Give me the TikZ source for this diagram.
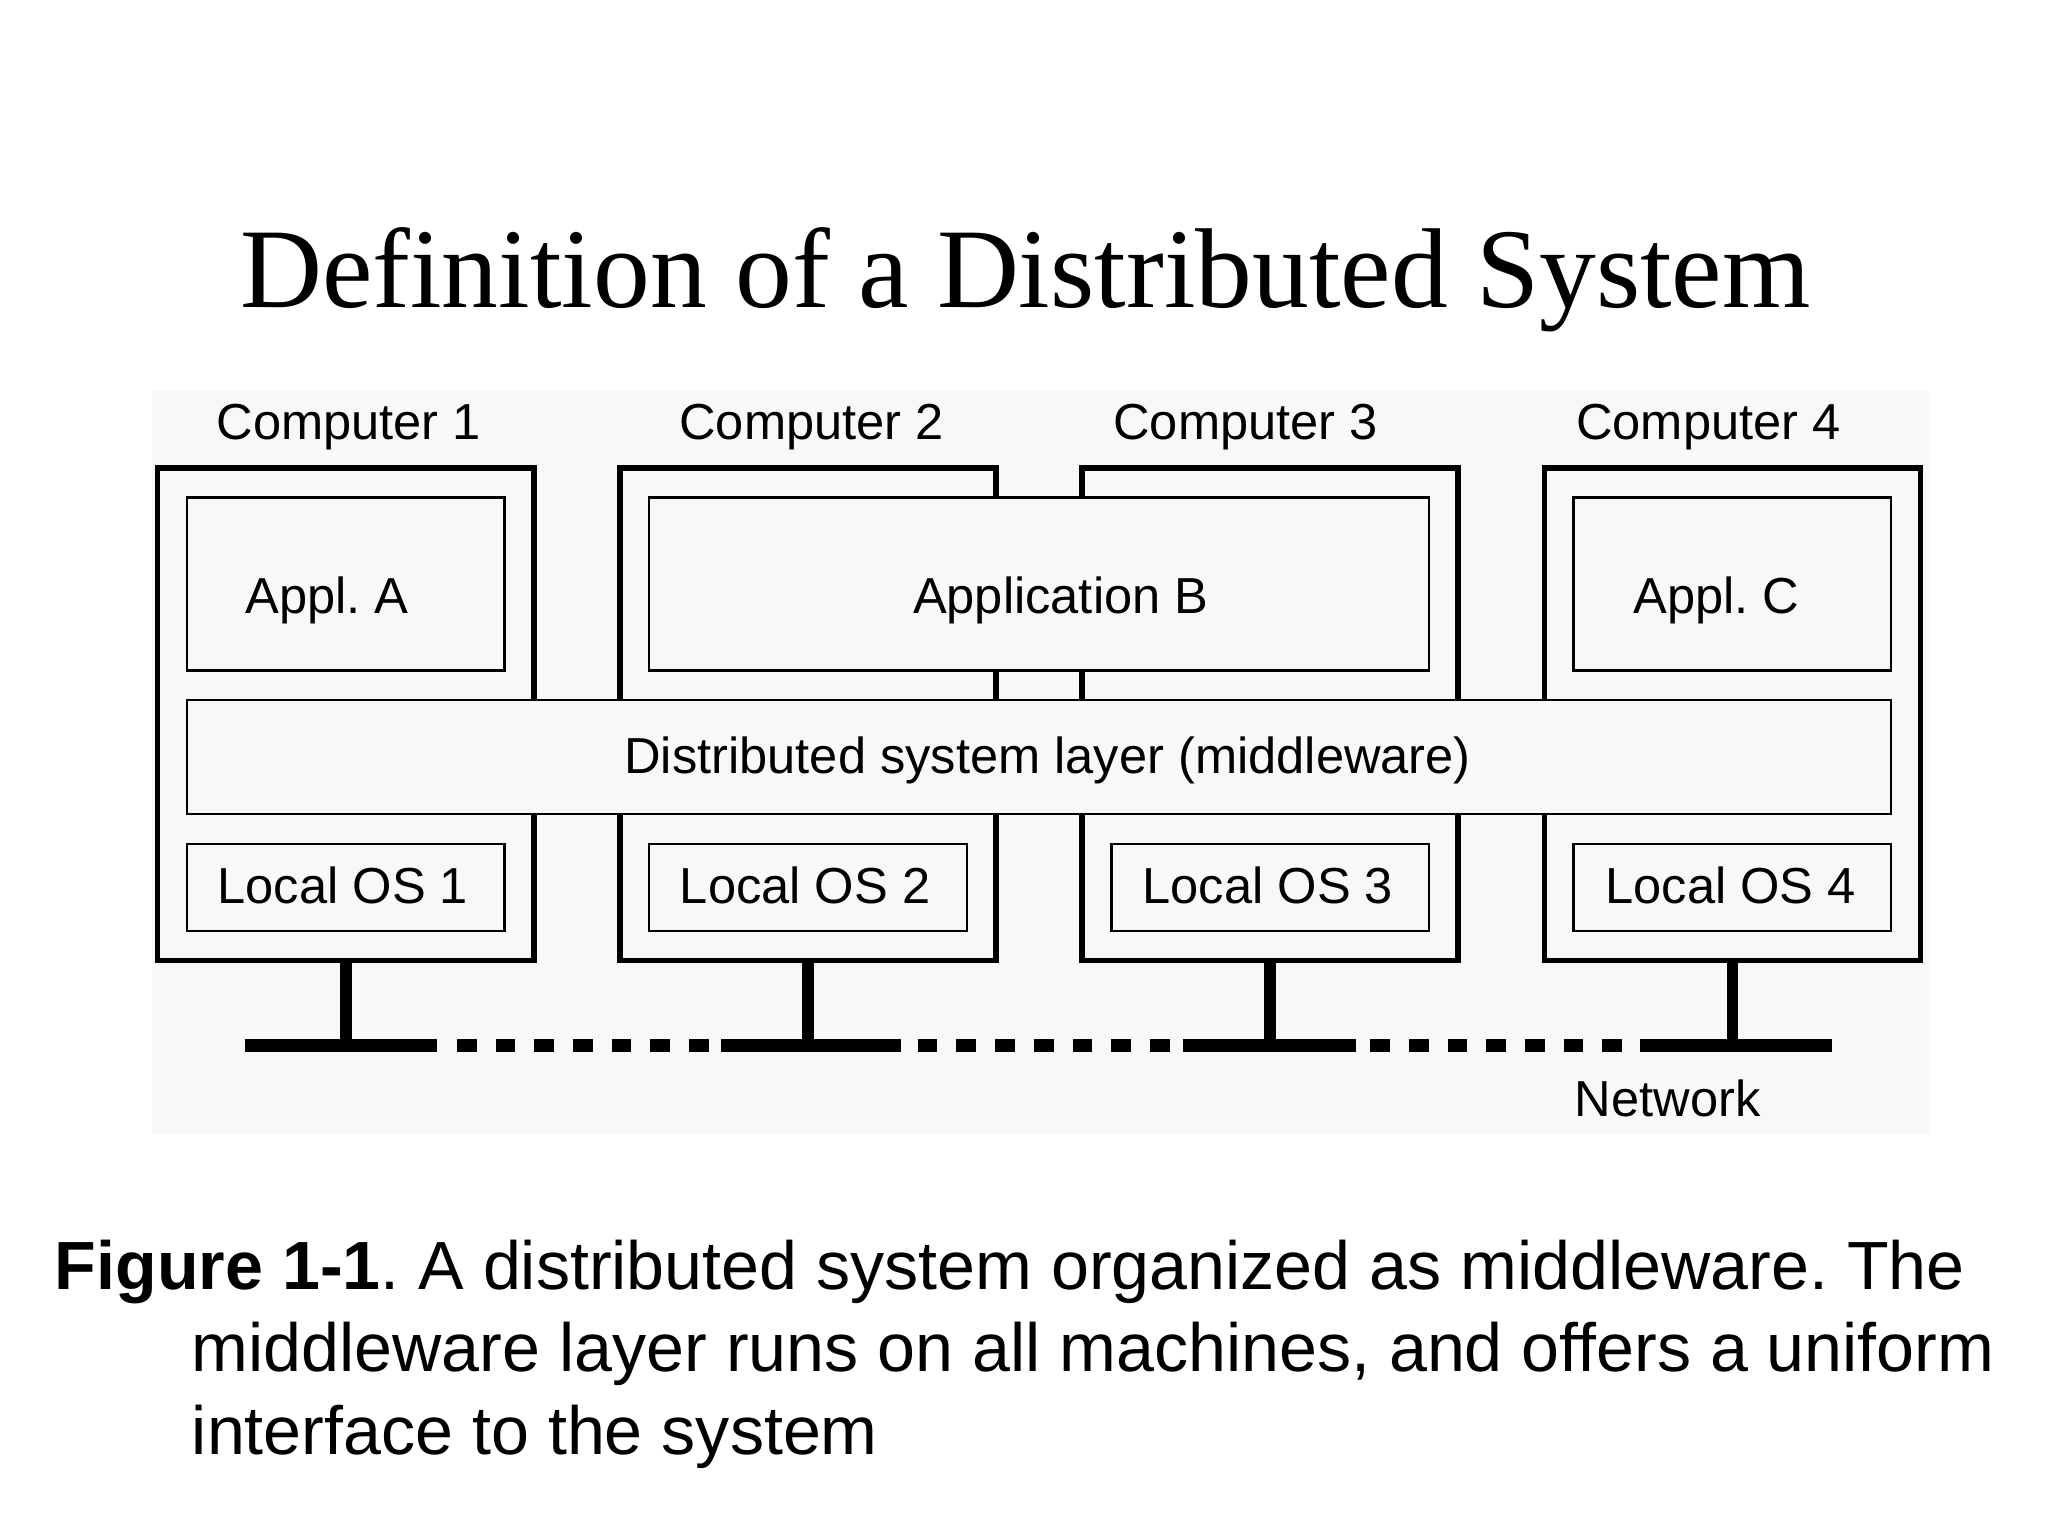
\documentclass[tikz,border=0pt]{standalone}
\usepackage{fontspec}
\setmainfont{Liberation Sans}
\newfontfamily\titlefont{Liberation Serif}
\definecolor{bgc}{HTML}{F8F8F8}
\frenchspacing
\begin{document}
\begin{tikzpicture}[x=0.5pt,y=-0.5pt,
  frame/.style={draw, line width=2.1pt, rectangle, inner sep=0pt, minimum width=143.4pt, minimum height=187.75pt},
  box/.style={draw, fill=bgc, line width=0.9pt, rectangle, inner sep=0pt},
  appbox/.style={box, minimum width=121.1pt, minimum height=66pt},
  osbox/.style={box, minimum width=121.1pt, minimum height=33.25pt},
  lbl/.style={anchor=base, inner sep=0pt, font=\fontsize{19.3}{22}\selectfont},
  captxt/.style={anchor=base west, inner sep=0pt, font=\fontsize{26}{31}\selectfont},
  stem/.style={line width=4.4pt},
  net/.style={line width=4.7pt},
  netdots/.style={line width=4.7pt, dash pattern=on 7.5pt off 7.25pt},
]
\useasboundingbox[fill=white] (0,0) rectangle (1562,1171.5);
% title
\node[anchor=base, inner sep=0pt, font=\titlefont\fontsize{43.3}{50}\selectfont] (title) at (782,234.4) {Definition of a Distributed System};
% figure background
\fill[bgc] (116,298.5) rectangle (1471,865.7);
% computers
\node[frame] (comp1) at (263.7,544.75) {};
\node[frame] (comp2) at (616.2,544.75) {};
\node[frame] (comp3) at (968.7,544.75) {};
\node[frame] (comp4) at (1321.2,544.75) {};
\node[lbl] (c1t) at (266,335.3) {Computer 1};
\node[lbl] (c2t) at (619,335.3) {Computer 2};
\node[lbl] (c3t) at (950,335.3) {Computer 3};
\node[lbl] (c4t) at (1303,335.3) {Computer 4};
% applications
\node[appbox] (appA) at (263.7,445.5) {};
\node[box, minimum width=297.35pt, minimum height=66pt] (appB) at (792.45,445.5) {};
\node[appbox] (appC) at (1321.2,445.5) {};
\node[lbl] (appAt) at (249.5,467.8) {Appl. A};
\node[lbl] (appBt) at (809,467.8) {Application B};
\node[lbl] (appCt) at (1309,467.8) {Appl. C};
% middleware
\node[box, minimum width=649.85pt, minimum height=43.5pt] (mw) at (792.45,577.5) {};
\node[lbl] (mwt) at (799,589.8) {Distributed system layer (middleware)};
% local OS
\node[osbox] (os1) at (263.7,676.75) {};
\node[osbox] (os2) at (616.2,676.75) {};
\node[osbox] (os3) at (968.7,676.75) {};
\node[osbox] (os4) at (1321.2,676.75) {};
\node[lbl] (os1t) at (261.5,688.8) {Local OS 1};
\node[lbl] (os2t) at (614,688.8) {Local OS 2};
\node[lbl] (os3t) at (967,688.8) {Local OS 3};
\node[lbl] (os4t) at (1320,688.8) {Local OS 4};
% network
\coordinate (n1) at (263.7,797.5);
\coordinate (n2) at (616.2,797.5);
\coordinate (n3) at (968.7,797.5);
\coordinate (n4) at (1321.2,797.5);
\draw[stem] (comp1.south) -- (n1);
\draw[stem] (comp2.south) -- (n2);
\draw[stem] (comp3.south) -- (n3);
\draw[stem] (comp4.south) -- (n4);
\coordinate (s1a) at (186.5,797.5); \coordinate (s1b) at (333,797.5);
\coordinate (s2a) at (550,797.5);   \coordinate (s2b) at (687,797.5);
\coordinate (s3a) at (902,797.5);   \coordinate (s3b) at (1034,797.5);
\coordinate (s4a) at (1250.5,797.5);\coordinate (s4b) at (1397,797.5);
\draw[net] (s1a) -- (s1b);
\draw[net] (s2a) -- (s2b);
\draw[net] (s3a) -- (s3b);
\draw[net] (s4a) -- (s4b);
\coordinate (d1a) at (348.5,797.5); \coordinate (d1b) at (540.5,797.5);
\coordinate (d2a) at (700,797.5);   \coordinate (d2b) at (892,797.5);
\coordinate (d3a) at (1045,797.5);  \coordinate (d3b) at (1237,797.5);
\draw[netdots] (d1a) -- (d1b);
\draw[netdots] (d2a) -- (d2b);
\draw[netdots] (d3a) -- (d3b);
\node[lbl] (nett) at (1272,851.4) {Network};
% caption
\node[captxt] (cap1) at (41.5,983.4) {\textbf{Figure 1-1}. A distributed system organized as middleware. The};
\node[captxt] (cap2) at (146,1046.4) {middleware layer runs on all machines, and offers a uniform};
\node[captxt] (cap3) at (146,1109.4) {interface to the system};
\end{tikzpicture}
\end{document}
